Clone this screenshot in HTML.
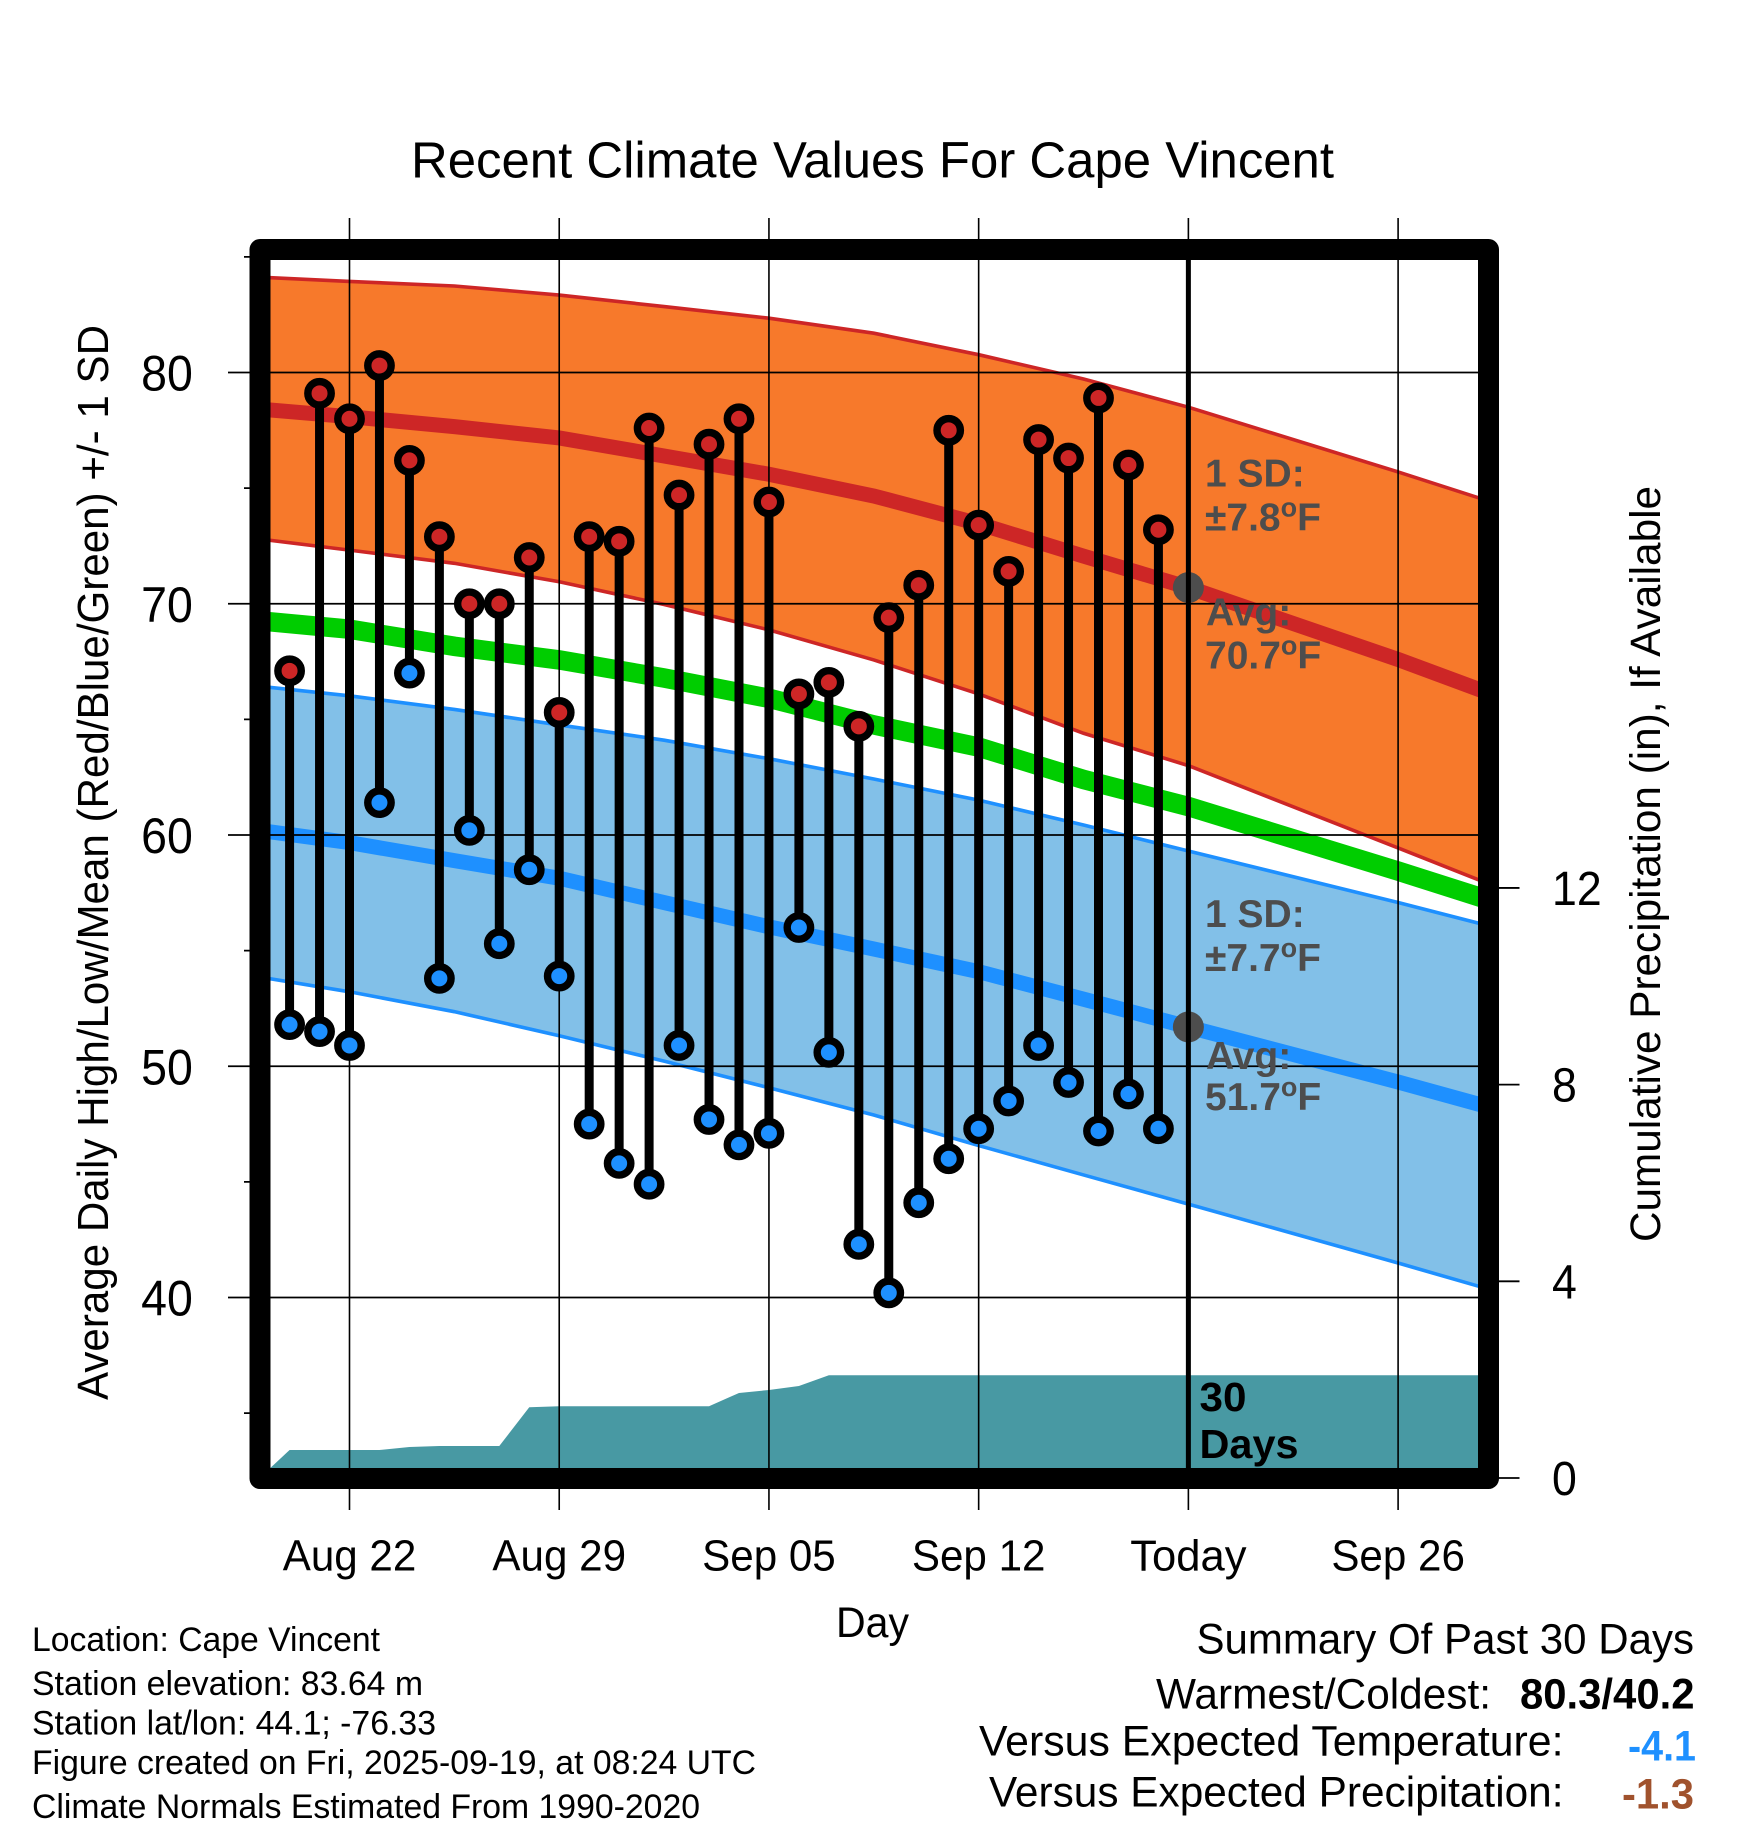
<!DOCTYPE html>
<html lang="en">
<head>
<meta charset="utf-8">
<title>Recent Climate Values For Cape Vincent</title>
<style>
html,body{margin:0;padding:0;background:#fff;}
svg{display:block;}
text{font-family:"Liberation Sans",Arial,sans-serif;fill:#000;}
</style>
</head>
<body>
<svg id="chart" xmlns="http://www.w3.org/2000/svg" width="1748" height="1828" viewBox="0 0 1748 1828">
  <defs><clipPath id="plot-clip"><rect x="260" y="250" width="1228" height="1228"/></clipPath></defs>
  <rect x="0" y="0" width="1748" height="1828" fill="#fff"/>
  <g id="fills" clip-path="url(#plot-clip)"></g>
  <g id="grid"></g>
  <rect x="260" y="249.5" width="1228.5" height="1229" fill="none" stroke="#000" stroke-width="21" stroke-linejoin="round"/>
  <g id="marks"></g>
  <g id="tick-labels"></g>

  <text x="411" y="177.5" font-size="51" textLength="923" lengthAdjust="spacingAndGlyphs">Recent Climate Values For Cape Vincent</text>
  <text transform="translate(108,1400) rotate(-90)" font-size="44" textLength="1075" lengthAdjust="spacingAndGlyphs">Average Daily High/Low/Mean (Red/Blue/Green) +/- 1 SD</text>
  <text transform="translate(1660,1242) rotate(-90)" font-size="43" textLength="756" lengthAdjust="spacingAndGlyphs">Cumulative Precipitation (in), If Available</text>
  <text x="836" y="1637" font-size="43" textLength="73" lengthAdjust="spacingAndGlyphs">Day</text>

  <g font-weight="bold" font-size="39">
    <text x="1205" y="486.5" style="fill:#4d4d4d" font-weight="bold">1 SD:</text>
    <text x="1205" y="530.5" style="fill:#4d4d4d" font-weight="bold">±7.8<tspan font-size="27" dy="-14">o</tspan><tspan dy="14">F</tspan></text>
    <text x="1206" y="625.5" style="fill:#4d4d4d" font-weight="bold">Avg:</text>
    <text x="1205" y="668.5" style="fill:#4d4d4d" font-weight="bold">70.7<tspan font-size="27" dy="-14">o</tspan><tspan dy="14">F</tspan></text>
    <text x="1205" y="927" style="fill:#4d4d4d" font-weight="bold">1 SD:</text>
    <text x="1205" y="971" style="fill:#4d4d4d" font-weight="bold">±7.7<tspan font-size="27" dy="-14">o</tspan><tspan dy="14">F</tspan></text>
    <text x="1206" y="1069" style="fill:#4d4d4d" font-weight="bold">Avg:</text>
    <text x="1205" y="1110" style="fill:#4d4d4d" font-weight="bold">51.7<tspan font-size="27" dy="-14">o</tspan><tspan dy="14">F</tspan></text>
  </g>
  <text x="1199.5" y="1411" font-size="41" font-weight="bold" textLength="47" lengthAdjust="spacingAndGlyphs">30</text>
  <text x="1199.5" y="1458" font-size="41" font-weight="bold" textLength="99" lengthAdjust="spacingAndGlyphs">Days</text>

  <g font-size="34">
    <text x="32" y="1651" textLength="348" lengthAdjust="spacingAndGlyphs">Location: Cape Vincent</text>
    <text x="32" y="1695" textLength="391" lengthAdjust="spacingAndGlyphs">Station elevation: 83.64 m</text>
    <text x="32" y="1734.5" textLength="404" lengthAdjust="spacingAndGlyphs">Station lat/lon: 44.1; -76.33</text>
    <text x="32" y="1774" textLength="724" lengthAdjust="spacingAndGlyphs">Figure created on Fri, 2025-09-19, at 08:24 UTC</text>
    <text x="32" y="1818" textLength="668" lengthAdjust="spacingAndGlyphs">Climate Normals Estimated From 1990-2020</text>
  </g>

  <g font-size="43">
    <text x="1196.5" y="1653.5" textLength="497.5" lengthAdjust="spacingAndGlyphs">Summary Of Past 30 Days</text>
    <text x="1156" y="1708.5" textLength="335" lengthAdjust="spacingAndGlyphs">Warmest/Coldest:</text>
    <text x="1520" y="1708.5" font-weight="bold" textLength="174.5" lengthAdjust="spacingAndGlyphs">80.3/40.2</text>
    <text x="979" y="1755.5" textLength="584.5" lengthAdjust="spacingAndGlyphs">Versus Expected Temperature:</text>
    <text x="1628" y="1760.5" font-weight="bold" style="fill:#1e90ff" textLength="68" lengthAdjust="spacingAndGlyphs">-4.1</text>
    <text x="989" y="1806.5" textLength="574.5" lengthAdjust="spacingAndGlyphs">Versus Expected Precipitation:</text>
    <text x="1622" y="1808.5" font-weight="bold" style="fill:#a0522d" textLength="72" lengthAdjust="spacingAndGlyphs">-1.3</text>
  </g>
</svg>
<script>
// Days are counted from Aug 22 (day 0); observations run Aug 20 (day -2) to Sep 18 (day 27).
const obsStartDay = -2;
const highs = [67.1,79.1,78.0,80.3,76.2,72.9,70.0,70.0,72.0,65.3,72.9,72.7,77.6,74.7,76.9,78.0,74.4,66.1,66.6,64.7,69.4,70.8,77.5,73.4,71.4,77.1,76.3,78.9,76.0,73.2];
const lows = [51.8,51.5,50.9,61.4,67.0,53.8,60.2,55.3,58.5,53.9,47.5,45.8,44.9,50.9,47.7,46.6,47.1,56.0,50.6,42.3,40.2,44.1,46.0,47.3,48.5,50.9,49.3,47.2,48.8,47.3];

const normalDays = [-3,0,3.5,7,10.5,14,17.5,21,24.5,28,35,38];
const highUpper = [84.12,83.94,83.74,83.35,82.85,82.35,81.7,80.77,79.72,78.5,75.7,74.45];
const highMean = [78.42,78.09,77.66,77.17,76.39,75.6,74.66,73.46,72.06,70.7,67.59,66.15];
const highLower = [72.8,72.32,71.75,70.95,69.97,68.87,67.57,66.1,64.4,63.0,59.44,57.9];
const meanMean = [69.26,68.9,68.16,67.57,66.79,65.91,64.76,63.8,62.4,61.23,58.44,57.2];
const lowUpper = [66.43,66.02,65.43,64.76,64.1,63.3,62.42,61.51,60.43,59.31,57.08,56.08];
const lowMean = [60.2,59.67,58.89,58.13,57.08,56.03,55.07,54.09,52.9,51.7,49.32,48.25];
const lowLower = [53.86,53.22,52.36,51.32,50.22,49.07,47.89,46.57,45.3,44.04,41.49,40.37];

const precipDays = [-3,-2,-1,0,1,2,3,4,5,6,7,8,9,10,11,12,13,14,15,16,38];
const precipTotals = [0,0.57,0.57,0.57,0.57,0.63,0.65,0.65,0.65,1.44,1.46,1.46,1.46,1.46,1.46,1.46,1.73,1.79,1.87,2.09,2.09];

const tempMajorTicks = [40,50,60,70,80];
const tempMinorTicks = [35,45,55,65,75,85];
const precipTicks = [0,4,8,12];
const dateTickDays = [0,7,14,21,28,35];
const dateTickLabels = ['Aug 22','Aug 29','Sep 05','Sep 12','Today','Sep 26'];
const todayDay = 28;
const todayHighAvg = 70.7;
const todayLowAvg = 51.7;

const NS = 'http://www.w3.org/2000/svg';
function xScale(d){ return 349.5 + d * 29.96; }
function yTemp(t){ return 372.5 + (80 - t) * 23.125; }
function yPrecip(p){ return 1478 - p * 49.17; }

function make(tag, attrs, parent){
  const el = document.createElementNS(NS, tag);
  Object.keys(attrs).forEach(function(k){ el.setAttribute(k, attrs[k]); });
  parent.appendChild(el);
  return el;
}
function linePoints(days, vals){
  return days.map(function(d,i){ return xScale(d).toFixed(2)+','+yTemp(vals[i]).toFixed(2); });
}
const fills = document.getElementById('fills');
const grid = document.getElementById('grid');
const marks = document.getElementById('marks');
const tickLabels = document.getElementById('tick-labels');

// shaded bands
const highBand = make('polygon',{points:linePoints(normalDays,highUpper).concat(linePoints(normalDays,highLower).reverse()).join(' '),fill:'#f7792b'},fills);


const lowBand = make('polygon',{points:linePoints(normalDays,lowUpper).concat(linePoints(normalDays,lowLower).reverse()).join(' '),fill:'#82c0e8'},fills);



// normal curves
const highUpperLine = make('polyline',{points:linePoints(normalDays,highUpper).join(' '),fill:'none',stroke:'#cd2626','stroke-width':3.6},fills);


const highLowerLine = make('polyline',{points:linePoints(normalDays,highLower).join(' '),fill:'none',stroke:'#cd2626','stroke-width':3.6},fills);


const lowUpperLine = make('polyline',{points:linePoints(normalDays,lowUpper).join(' '),fill:'none',stroke:'#1e90ff','stroke-width':3.6},fills);


const lowLowerLine = make('polyline',{points:linePoints(normalDays,lowLower).join(' '),fill:'none',stroke:'#1e90ff','stroke-width':3.6},fills);


const highMeanLine = make('polyline',{points:linePoints(normalDays,highMean).join(' '),fill:'none',stroke:'#cd2626','stroke-width':15},fills);


const meanLine = make('polyline',{points:linePoints(normalDays,meanMean).join(' '),fill:'none',stroke:'#00cd00','stroke-width':19.5},fills);


const lowMeanLine = make('polyline',{points:linePoints(normalDays,lowMean).join(' '),fill:'none',stroke:'#1e90ff','stroke-width':15},fills);



// precipitation area
const precipPts = precipDays.map(function(d,i){ return xScale(d).toFixed(2)+','+yPrecip(precipTotals[i]).toFixed(2); });
const precipBase = xScale(precipDays[precipDays.length-1]).toFixed(2)+','+yPrecip(0)+' '+xScale(precipDays[0]).toFixed(2)+','+yPrecip(0);
const precipArea = make('polygon',{points:precipPts.join(' ')+' '+precipBase,fill:'#4899a3'},fills);



// gridlines and ticks
tempMajorTicks.forEach(function(t){
  const y = yTemp(t);
  const g = make('line',{x1:228,x2:1488,y1:y,y2:y,stroke:'#000','stroke-width':1.8},grid);
  
  
  const lab = make('text',{transform:'translate(167,'+(y+18)+') scale(.93,1)','text-anchor':'middle','font-size':50},tickLabels);
  
  
  lab.textContent = String(t);
});
tempMinorTicks.forEach(function(t){
  const y = yTemp(t);
  const g = make('line',{x1:244,x2:262,y1:y,y2:y,stroke:'#000','stroke-width':1.8},grid);
  
  
});
precipTicks.forEach(function(p){
  const y = yPrecip(p);
  const g = make('line',{x1:1488,x2:1519.5,y1:y,y2:y,stroke:'#000','stroke-width':1.8},grid);
  
  
  const lab = make('text',{transform:'translate(1552,'+(y+17)+') scale(.93,1)','font-size':48},tickLabels);
  
  
  lab.textContent = String(p);
});
dateTickDays.forEach(function(d,i){
  const x = xScale(d);
  const g = make('line',{x1:x,x2:x,y1:218,y2:1510,stroke:'#000','stroke-width':1.6},grid);
  
  
  const squeeze = d === todayDay ? 0.99 : 0.958;
  const lab = make('text',{transform:'translate('+x+',1570.5) scale('+squeeze+',1)','text-anchor':'middle','font-size':44},tickLabels);
  
  
  lab.textContent = dateTickLabels[i];
});

// today line and averages
const todayX = xScale(todayDay);
const dotHigh = make('circle',{cx:todayX,cy:yTemp(todayHighAvg),r:15.5,fill:'#4d4d4d'},marks);


const dotLow = make('circle',{cx:todayX,cy:yTemp(todayLowAvg),r:15.5,fill:'#4d4d4d'},marks);


const todayLine = make('line',{x1:todayX,x2:todayX,y1:250,y2:1478,stroke:'#000','stroke-width':5},marks);



// daily high/low stems and markers
highs.forEach(function(h,i){
  const x = xScale(obsStartDay + i);
  const stem = make('line',{x1:x,x2:x,y1:yTemp(h),y2:yTemp(lows[i]),stroke:'#000','stroke-width':9},marks);
  
  
});
highs.forEach(function(h,i){
  const x = xScale(obsStartDay + i);
  const hi = make('circle',{cx:x,cy:yTemp(h),r:11.7,fill:'#cd2626',stroke:'#000','stroke-width':7.4},marks);
  
  
  const lo = make('circle',{cx:x,cy:yTemp(lows[i]),r:11.7,fill:'#1e90ff',stroke:'#000','stroke-width':7.4},marks);
  
  
});
</script>
</body>
</html>
